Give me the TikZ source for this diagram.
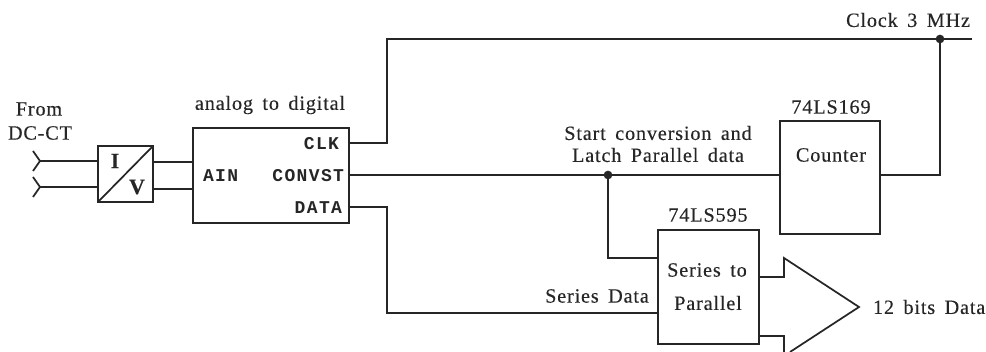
\documentclass[tikz,border=0pt]{standalone}
\usepackage{fontspec}
\setmainfont{Liberation Serif}[LetterSpace=4,WordSpace=1.6,FakeBold=0.25]
\setmonofont{Liberation Mono}[LetterSpace=7.5]
\begin{document}
\begin{tikzpicture}[x=0.75pt,y=-0.75pt,line width=1.3pt,line join=miter,color=black!85,
  box/.style={draw,inner sep=0,outer sep=0,anchor=north west},
  lab/.style={inner sep=0,outer sep=0,font=\fontsize{15.2}{17}\selectfont,text=black!85},
  pin/.style={inner sep=0,outer sep=0,font=\fontsize{13.5}{15}\selectfont\ttfamily\bfseries,text=black!85},
  dotn/.style={circle,fill=black!85,inner sep=0,outer sep=0,minimum size=6.5pt}]
\useasboundingbox (0,0) rectangle (986,352);
% boxes
\node[box,minimum width=41.25pt,minimum height=42pt] (iv) at (98,146) {};
\node[box,minimum width=117pt,minimum height=71.25pt] (adc) at (193,128) {};
\node[box,minimum width=75pt,minimum height=84.75pt] (cnt) at (780,121) {};
\node[box,minimum width=75.75pt,minimum height=85.5pt] (sp) at (658,230) {};
% I/V
\draw (iv.south west) -- (iv.north east);
\node[lab,font=\fontsize{16.5}{17}\selectfont\bfseries] (ti) at (115,161) {I};
\node[lab,font=\fontsize{16.5}{17}\selectfont\bfseries] (tv) at (137,187) {V};
% inputs
\coordinate (in1) at (40,161);
\coordinate (in2) at (40,187);
\coordinate (in1a) at (33,151); \coordinate (in1b) at (33,171);
\coordinate (in2a) at (33,177); \coordinate (in2b) at (33,197);
\draw (in1a) -- (in1) -- (in1b);
\draw (in2a) -- (in2) -- (in2b);
\draw (in1) -- (in1 -| iv.west);
\draw (in2) -- (in2 -| iv.west);
\coordinate (o1) at (153,162);
\coordinate (o2) at (153,189);
\draw (o1) -- (o1 -| adc.west);
\draw (o2) -- (o2 -| adc.west);
% clock
\coordinate (clk) at (349,143);
\coordinate (cu) at (387,143);
\coordinate (ct) at (387,39);
\coordinate (cend) at (972,39);
\node[dotn] (dclk) at (940,39) {};
\draw (clk) -- (cu) -- (ct) -- (cend);
% convst
\coordinate (con) at (349,175);
\node[dotn] (dcon) at (608,175) {};
\draw (con) -- (con -| cnt.west);
\coordinate (cntout) at (880,175);
\draw (cntout) -| (dclk);
\coordinate (lat) at (658,258);
\draw (dcon) |- (lat);
% data
\coordinate (dat) at (349,207);
\coordinate (du) at (387,207);
\coordinate (dd) at (387,313);
\coordinate (din) at (658,313);
\draw (dat) -- (du) -- (dd) -- (din);
% wide arrow
\coordinate (a1) at (759,277); \coordinate (a2) at (784,277); \coordinate (a3) at (784,258);
\coordinate (tip) at (859,307); \coordinate (a4) at (790,352);
\coordinate (a5) at (784,352); \coordinate (a6) at (784,336); \coordinate (a7) at (759,336);
\draw (a1) -- (a2) -- (a3) -- (tip) -- (a4);
\draw (a5) -- (a6) -- (a7);
% texts
\node[lab] (t1a) at (39,109) {From};
\node[lab] (t1b) at (40,133) {DC-CT};
\node[lab] (t2) at (270,105) {analog to digital};
\node[pin,anchor=east] (p1) at (339,144) {CLK};
\node[pin,anchor=west] (p2) at (203,176) {AIN};
\node[pin,anchor=east] (p3) at (344,176) {CONVST};
\node[pin,anchor=east] (p4) at (342,208) {DATA};
\node[lab] (t3) at (658,133) {Start conversion and};
\node[lab] (t4) at (658,155) {Latch Parallel data};
\node[lab] (t5) at (831,107) {74LS169};
\node[lab] (t6) at (831,155) {Counter};
\node[lab,anchor=east] (t7) at (970,20) {Clock 3 MHz};
\node[lab] (t8) at (708,215) {74LS595};
\node[lab] (t9) at (707,270) {Series to};
\node[lab] (t10) at (708,303) {Parallel};
\node[lab] (t11) at (597,296) {Series Data};
\node[lab,anchor=west] (t12) at (873,307) {12 bits Data};
\end{tikzpicture}
\end{document}
